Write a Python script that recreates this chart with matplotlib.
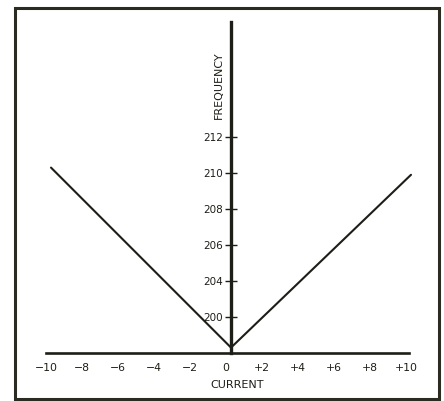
import matplotlib
matplotlib.use("Agg")
import matplotlib.pyplot as plt
from matplotlib.patches import Rectangle
from matplotlib.transforms import ScaledTranslation

# ---- data ----
current = [-10, 0, 10]
frequency = [210.3, 200.3, 209.9]

x_ticks = [-10, -8, -6, -4, -2, 0, 2, 4, 6, 8, 10]
x_tick_labels = ["\u221210", "\u22128", "\u22126", "\u22124", "\u22122", "0",
                 "+2", "+4", "+6", "+8", "+10"]
y_ticks = [202, 204, 206, 208, 210, 212]
y_tick_labels = ["200", "204", "206", "208", "210", "212"]

ink = "#1e1e18"

fig = plt.figure(figsize=(4.44, 4.01), dpi=100)
ax = fig.add_axes([0, 0, 1, 1])
ax.set_facecolor("white")
ax.set_xlim(-231 / 18, (444 - 231) / 18)
ax.set_ylim(202 - (401 - 317) / 18, 202 + 317 / 18)

# axes spines as crossing axes
for s in ["top", "right"]:
    ax.spines[s].set_visible(False)
ax.spines["left"].set_position(("data", 0))
ax.spines["left"].set_bounds(200, 218.4)
ax.spines["left"].set_linewidth(2.4)
ax.spines["left"].set_color(ink)
ax.spines["bottom"].set_position(("data", 200))
ax.spines["bottom"].set_bounds(-10.3, 9.9)
ax.spines["bottom"].set_linewidth(1.9)
ax.spines["bottom"].set_color(ink)
ax.spines["left"].set_zorder(3)

ax.set_yticks(y_ticks)
ax.set_yticklabels(y_tick_labels)
ax.tick_params(axis="y", direction="inout", length=9, width=1.0, color=ink,
               pad=1, labelsize=7.5, labelcolor=ink)
ax.set_xticks(x_ticks)
ax.set_xticklabels(x_tick_labels)
ax.tick_params(axis="x", length=0, pad=7, labelsize=7.8, labelcolor=ink)
for lab in ax.get_xticklabels():
    lab.set_transform(lab.get_transform() + ScaledTranslation(-5 / 100, 0, fig.dpi_scale_trans))

# V-shaped curve
ax.plot(current, frequency, color=ink, linewidth=1.5, solid_capstyle="round", zorder=2)

# axis titles
ax.text(-0.7, 214.9, "FREQUENCY", rotation=90, ha="center", va="center",
        fontsize=8, color=ink)
ax.text(0.35, 200 - 32 / 18, "CURRENT", ha="center", va="center",
        fontsize=8, color=ink)

# outer frame
fig.patches.append(Rectangle((15 / 444, (401 - 399) / 401), (439 - 15) / 444, (399 - 8) / 401,
                             transform=fig.transFigure, fill=False,
                             edgecolor="#2b2b22", linewidth=2.2))

fig.savefig("out.png", dpi=100, facecolor="white")
